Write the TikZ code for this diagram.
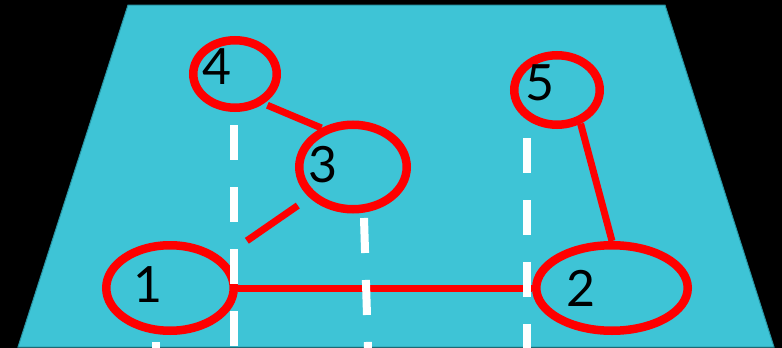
\documentclass[tikz,border=0pt]{standalone}
\usepackage{fontspec}
\setmainfont{Lato}
\usetikzlibrary{shapes.geometric}
\definecolor{court}{RGB}{62,196,214}
\definecolor{courtline}{RGB}{40,150,165}

\begin{document}
\begin{tikzpicture}[
 x=1pt, y=-1pt,
 ring/.style={ellipse, draw=red, line width=8.5pt, inner sep=0pt},
 num/.style={font=\fontsize{50}{60}\selectfont, text=black, inner sep=0pt},
 rope/.style={draw=red, line width=7pt},
 lane/.style={draw=white, line width=8pt, dash pattern=on 35pt off 27pt},
]
\fill[black] (0,0) rectangle (782,348);
\useasboundingbox (0,0) rectangle (782,348);
\filldraw[fill=court, draw=courtline, line width=1pt] (128,5) -- (665,5) -- (774,347) -- (18,347) -- cycle;

% players
\node[ring, minimum width=127.5pt, minimum height=85.5pt] (p1) at (170,288) {};
\node[ring, minimum width=151.5pt, minimum height=85.5pt] (p2) at (612,288) {};
\node[ring, minimum width=107.5pt, minimum height=84.5pt] (p3) at (353,167) {};
\node[ring, minimum width=83.5pt, minimum height=67.5pt] (p4) at (235,74) {};
\node[ring, minimum width=85.5pt, minimum height=69.5pt] (p5) at (557,90) {};

\node[num] (n1) at (148,285) {1};
\node[num] (n2) at (581,288) {2};
\node[num] (n3) at (323,165) {3};
\node[num] (n4) at (217,67) {4};
\node[num] (n5) at (540,83) {5};

% links
\draw[rope, shorten <=4pt] (p4.-46) -- (p3.129);
\draw[rope, shorten <=14pt, shorten >=30pt] (p3.215) -- (p1.30);
\draw[rope] (p1.east) -- (p2.west);
\draw[rope] (p5.-55) -- (p2.north);

% lanes
\draw[lane] (234,125) -- (234,348);
\draw[lane] (364,218) -- (368,348);
\draw[lane] (527,138) -- (527,348);
\draw[lane] (156,342) -- (156,348);
\end{tikzpicture}
\end{document}
